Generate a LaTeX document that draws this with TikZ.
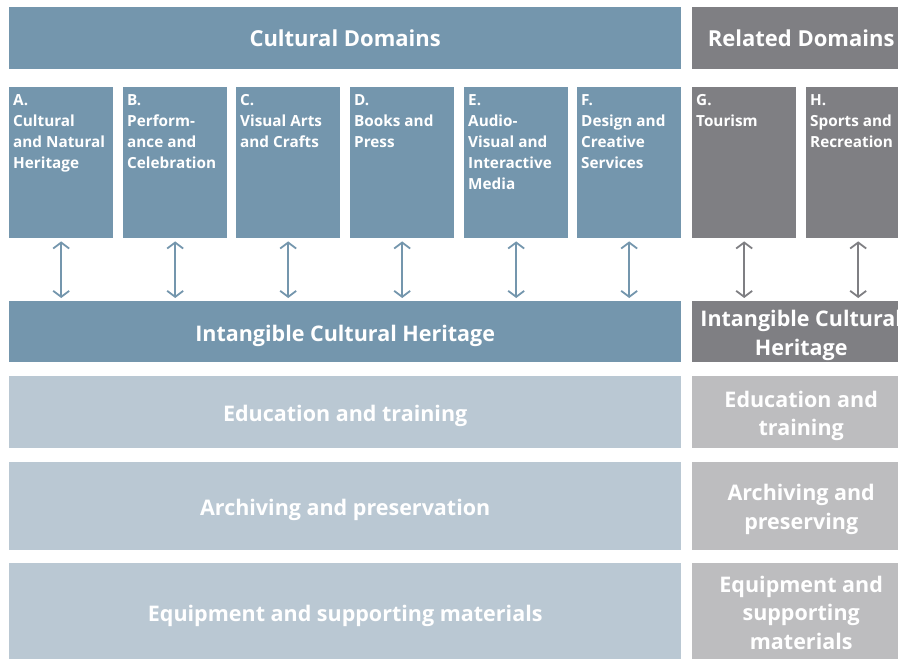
\documentclass[tikz,border=0pt]{standalone}
\usepackage{fontspec}
\setmainfont{Open Sans}
\usetikzlibrary{arrows.meta}
\definecolor{cblue}{HTML}{7496AD}
\definecolor{cgrey}{HTML}{7F7F83}
\definecolor{lblue}{HTML}{BAC8D3}
\definecolor{lgrey}{HTML}{BDBDBF}
\newcommand{\domtext}[1]{\parbox[t][143pt][t]{96pt}{\fontsize{15.3}{21}\selectfont\strut #1}}
\newcommand{\lift}[1]{\rule{0pt}{#1pt}}
\begin{document}
\begin{tikzpicture}[x=1pt,y=-1pt,
  box/.style={fill=#1, draw=none, inner sep=0pt, anchor=north west, text=white, font=\bfseries},
  hdr/.style={box=#1, font=\bfseries\fontsize{22}{28}\selectfont, text height=15.7pt, text depth=0pt},
  dom/.style={box=#1, inner xsep=4pt, inner ysep=4pt, align=left},
  row/.style={box=#1, font=\bfseries\fontsize{21.5}{28.5}\selectfont, text height=19.5pt, text depth=0pt},
  rrow/.style={box=#1, font=\bfseries\fontsize{21.5}{28.5}\selectfont, align=center},
  arr/.style={draw=#1, line width=1.8pt, {Straight Barb[length=6pt,width=16pt]}-{Straight Barb[length=6pt,width=16pt]}, shorten <=3pt, shorten >=3pt}
]
\clip (0,0) rectangle (898,659);
% headers
\node[hdr=cblue, minimum width=672pt, minimum height=62pt] (cd) at (9,7) {Cultural Domains};
\node[hdr=cgrey, minimum width=218pt, minimum height=62pt] (rd) at (692,7) {Related Domains};
% domain boxes
\node[dom=cblue] (A) at (9,87) {\domtext{A.\\Cultural\\and Natural\\Heritage}};
\node[dom=cblue] (B) at (123,87) {\domtext{B.\\Perform-\\ance and\\Celebration}};
\node[dom=cblue] (C) at (236,87) {\domtext{C.\\Visual Arts\\and Crafts}};
\node[dom=cblue] (D) at (350,87) {\domtext{D.\\Books and\\Press}};
\node[dom=cblue] (E) at (464,87) {\domtext{E.\\Audio-\\Visual and\\Interactive\\Media}};
\node[dom=cblue] (F) at (577,87) {\domtext{F.\\Design and\\Creative\\Services}};
\node[dom=cgrey] (G) at (692,87) {\domtext{G.\\Tourism}};
\node[dom=cgrey] (H) at (806,87) {\domtext{H.\\Sports and\\Recreation}};
% rows
\node[row=cblue, minimum width=672pt, minimum height=61pt] (ich) at (9,301) {Intangible Cultural Heritage};
\node[rrow=cgrey, minimum width=218pt, minimum height=61pt] (rich) at (692,301) {\lift{24}Intangible Cultural\\Heritage};
\node[row=lblue, minimum width=672pt, minimum height=72pt] (edu) at (9,376) {Education and training};
\node[rrow=lgrey, minimum width=218pt, minimum height=72pt] (redu) at (692,376) {\lift{24}Education and\\training};
\node[row=lblue, minimum width=672pt, minimum height=88pt] (arch) at (9,462) {Archiving and preservation};
\node[rrow=lgrey, minimum width=218pt, minimum height=88pt] (rarch) at (692,462) {\lift{22.5}Archiving and\\preserving};
\node[row=lblue, minimum width=672pt, minimum height=98pt] (equ) at (9,563) {Equipment and supporting materials};
\node[rrow=lgrey, minimum width=218pt, minimum height=98pt] (requ) at (692,563) {\lift{17.4}Equipment and\\supporting\\materials};
% arrows
\foreach \n in {A,B,C,D,E,F}{
  \draw[arr=cblue] (\n.south) -- (\n.south |- ich.north);
}
\foreach \n in {G,H}{
  \draw[arr=cgrey] (\n.south) -- (\n.south |- rich.north);
}
\end{tikzpicture}
\end{document}
